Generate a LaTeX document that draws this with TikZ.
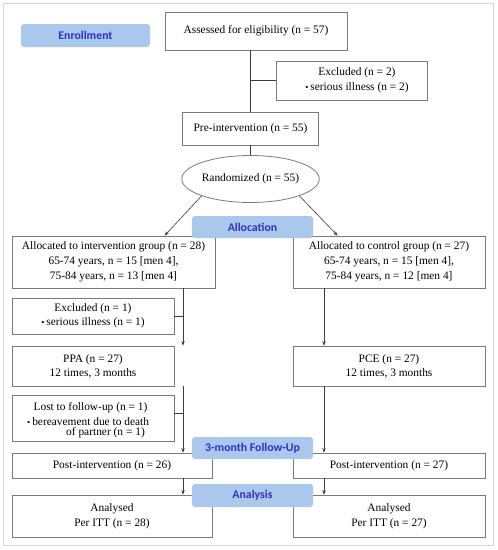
\documentclass[tikz,border=0pt]{standalone}
\usepackage{fontspec}
\setmainfont{Liberation Serif}
\newfontfamily\lblfont{Carlito}
\usetikzlibrary{arrows.meta,shapes.geometric,calc}
\definecolor{boxline}{HTML}{7A7A7A}
\definecolor{connc}{HTML}{3C3C3C}
\definecolor{lblfill}{HTML}{A9C8EC}
\definecolor{lbltext}{HTML}{3030C8}
\definecolor{framec}{HTML}{D6D6D6}
\newcommand\bul{{\fontsize{9}{9}\selectfont\raisebox{0.3pt}{•}}\,}
\begin{document}
\begin{tikzpicture}[x=1pt,y=-1pt,
  box/.style={draw=boxline, line width=0.8pt, inner sep=0pt, align=center, font=\fontsize{11.4}{14}\selectfont},
  txt/.style={inner sep=0pt, align=center, font=\fontsize{11.4}{14}\selectfont},
  conn/.style={draw=connc, line width=0.6pt},
  arr/.style={conn, -{Stealth[length=4.5pt,width=3.5pt]}},
  phase/.style={fill=lblfill, rounded corners=3pt, inner sep=0pt, font=\lblfont\bfseries\fontsize{11.8}{12}\selectfont, text=lbltext}]
\useasboundingbox (0,0) rectangle (498,550);
\draw[framec, line width=1pt] (3,3) rectangle (493,545);

% boxes
\node[box, minimum width=182pt, minimum height=38pt] (assess) at (256,31) {Assessed for eligibility (n = 57)};
\node[box, minimum width=151pt, minimum height=39pt] (excl0) at (351.5,80.5) {};
\node[txt, font=\fontsize{11.4}{15}\selectfont] (excl0t) at (357,80.5) {Excluded (n = 2)\\ \bul serious illness (n = 2)};
\node[box, minimum width=136pt, minimum height=33pt] (pre) at (250.5,128.5) {Pre-intervention (n = 55)};
\node[box, ellipse, minimum width=136pt, minimum height=47pt] (rand) at (250.5,179) {Randomized (n = 55)};
\node[box, minimum width=203pt, minimum height=52pt, font=\fontsize{11.4}{15}\selectfont] (a1) at (113.5,262) {Allocated to intervention group (n = 28)\\65-74 years, n = 15 [men 4],\\75-84 years, n = 13 [men 4]};
\node[box, minimum width=192pt, minimum height=52pt, font=\fontsize{11.4}{15}\selectfont] (a2) at (389,262) {Allocated to control group (n = 27)\\65-74 years, n = 15 [men 4],\\75-84 years, n = 12 [men 4]};
\node[box, minimum width=162pt, minimum height=36pt] (excl1) at (93,316) {Excluded (n = 1)\\ \bul serious illness (n = 1)};
\node[box, minimum width=162pt, minimum height=40pt] (ppa) at (93,366) {PPA (n = 27)\\12 times, 3 months};
\node[box, minimum width=192pt, minimum height=40pt] (pce) at (389,366) {PCE (n = 27)\\12 times, 3 months};
\node[box, minimum width=162pt, minimum height=46pt] (lost) at (93,418) {};
\node[txt] (lost1) at (90.5,408) {Lost to follow-up (n = 1)};
\node[txt, anchor=west] (lost2) at (27,422) {\bul bereavement due to death};
\node[txt, anchor=east] (lost3) at (145,433) {of partner (n = 1)};
\node[box, minimum width=200pt, minimum height=25pt] (post1) at (112,465.5) {Post-intervention (n = 26)};
\node[box, minimum width=192pt, minimum height=25pt] (post2) at (389,465.5) {Post-intervention (n = 27)};
\node[box, minimum width=200pt, minimum height=42pt, font=\fontsize{11.4}{15}\selectfont] (an1) at (112,516) {Analysed\\Per ITT (n = 28)};
\node[box, minimum width=192pt, minimum height=42pt, font=\fontsize{11.4}{15}\selectfont] (an2) at (389,516) {Analysed\\Per ITT (n = 27)};

% columns
\coordinate (cl) at (183,0);
\coordinate (cr) at (324,0);

% connectors
\draw[conn] (pre.north |- assess.south) -- (pre.north);
\draw[conn] (excl0.west) -- (excl0.west -| pre.north);
\draw[conn] (pre.south) -- (rand.north);
\draw[arr] (rand.south west) -- ([xshift=153pt]a1.north west);
\draw[arr] (rand.south east) -- ([xshift=45pt]a2.north west);
\draw[arr] (a1.south -| cl) -- (ppa.north -| cl);
\draw[conn] (excl1.east) -- (excl1.east -| cl);
\draw[arr] (a2.south -| cr) -- (pce.north -| cr);
\draw[arr] (ppa.south -| cl) -- (post1.north -| cl);
\draw[conn] ([yshift=5pt]lost.east) -- ([yshift=5pt]lost.east -| cl);
\draw[arr] (pce.south -| cr) -- (post2.north -| cr);
\draw[arr] (post1.south -| cl) -- (an1.north -| cl);
\draw[arr] (post2.south -| cr) -- (an2.north -| cr);

% phase labels
\node[phase, minimum width=129pt, minimum height=23pt] (enroll) at (85.5,35.5) {Enrollment};
\node[phase, minimum width=121pt, minimum height=22pt] (alloc) at (252.5,227) {Allocation};
\node[phase, minimum width=121pt, minimum height=22pt] (follow) at (252.5,448) {3-month Follow-Up};
\node[phase, minimum width=121pt, minimum height=23pt] (anal) at (252.5,495.5) {Analysis};
\end{tikzpicture}
\end{document}
